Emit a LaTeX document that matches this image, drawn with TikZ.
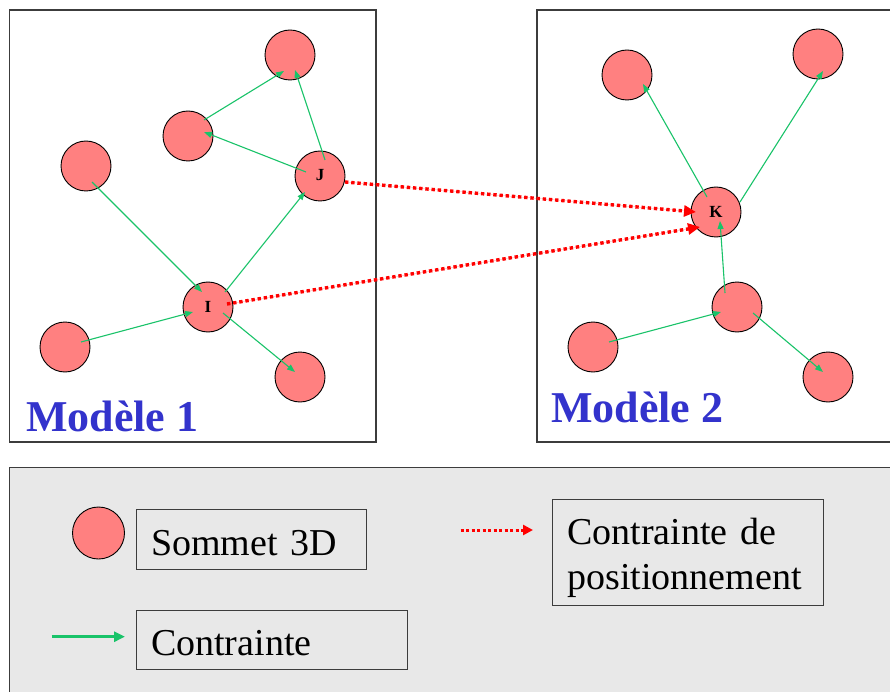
\documentclass[tikz,border=0pt]{standalone}
\usepackage{fontspec}
\setmainfont{Liberation Serif}
\usetikzlibrary{arrows.meta,calc}
\definecolor{vert}{RGB}{25,195,105}
\definecolor{rose}{RGB}{255,128,128}
\definecolor{bleu}{RGB}{51,51,204}
\definecolor{cadre}{RGB}{60,60,60}
\definecolor{fond}{RGB}{232,232,232}
\begin{document}
\begin{tikzpicture}[x=1pt,y=-1pt,
  sommet/.style={circle,draw=black,line width=0.9pt,fill=rose,minimum size=50pt,inner sep=0pt,font=\fontsize{17}{17}\selectfont\bfseries},
  garrow/.style={draw=vert,line width=1.1pt,-{Triangle[length=8pt,width=6pt]}},
  rarrow/.style={draw=red,fill=red,line width=3.4pt,dash pattern=on 3.4pt off 2.8pt,-{Triangle[length=12pt,width=11pt]}},
  lgarrow/.style={draw=vert,line width=2.8pt,-{Triangle[length=11pt,width=10pt]}},
  lrarrow/.style={draw=red,line width=3pt,dash pattern=on 3pt off 2.5pt,-{Triangle[length=10pt,width=10pt]}},
  modele/.style={draw=cadre,line width=1.2pt,fill=white},
  titre/.style={text=bleu,font=\fontsize{44}{44}\selectfont\bfseries,inner sep=0pt,anchor=base west},
  lbox/.style={draw=cadre,line width=1.1pt,anchor=north west,inner xsep=15pt,inner ysep=0pt,align=left,font=\fontsize{38}{45}\selectfont}
]
\useasboundingbox (0,0) rectangle (890,692);
\clip (0,0) rectangle (890,692);
\fill[white] (0,0) rectangle (890,692);

% frames
\draw[modele] (9.5,10) rectangle (376,442);
\draw[modele] (537,10) rectangle (900,442);
\draw[draw=cadre,line width=1.2pt,fill=fond] (9.5,467.5) rectangle (900,700);

% model 1
\node[sommet] (T)  at (290,55)  {};
\node[sommet] (M)  at (188,136) {};
\node[sommet] (L)  at (86,166)  {};
\node[sommet] (J)  at (320,176) {\raisebox{2pt}{J}};
\node[sommet] (I)  at (208,307) {I};
\node[sommet] (BL) at (65,347)  {};
\node[sommet] (BR) at (300,377) {};

% model 2
\node[sommet] (TL)  at (627,75)  {};
\node[sommet] (TR)  at (818,54)  {};
\node[sommet] (K)   at (716,212) {K};
\node[sommet] (BC)  at (737,307) {};
\node[sommet] (BLr) at (593,347) {};
\node[sommet] (BRr) at (828,377) {};

% green constraints, model 1
\draw[garrow] ($(J)+(5,-16)$) -- ($(T)+(5,15)$);
\draw[garrow] ($(J)+(-14,-4)$) -- ($(M)+(16,-4)$);
\draw[garrow] ($(M)+(16,-16)$) -- ($(T)+(-6,16)$);
\draw[garrow] ($(L)+(6,16)$) -- ($(I)+(-6,-15)$);
\draw[garrow] ($(I)+(17,-15)$) -- ($(J)+(-15,16)$);
\draw[garrow] ($(BL)+(16,-5)$) -- ($(I)+(-15,5)$);
\draw[garrow] ($(I)+(15,6)$) -- ($(BR)+(-5,-5)$);

% green constraints, model 2
\draw[garrow] ($(K)+(-9,-15)$) -- ($(TL)+(16,9)$);
\draw[garrow] ($(K)+(24,-10)$) -- ($(TR)+(5,17)$);
\draw[garrow] ($(BC)+(-12,-14)$) -- ($(K)+(4,9)$);
\draw[garrow] ($(BLr)+(16,-5)$) -- ($(BC)+(-16,5)$);
\draw[garrow] ($(BC)+(16,6)$) -- ($(BRr)+(-5,-5)$);

% positioning constraints
\draw[rarrow] ($(J)+(25,6)$) -- ($(K)+(-20,0)$);
\draw[rarrow] ($(I)+(19,-3)$) -- ($(K)+(-16,15)$);

% titles
\node[titre] (m1) at (26,431) {Modèle 1};
\node[titre] (m2) at (551,422) {Modèle 2};

% legend
\node[sommet,minimum size=52pt] (lsom) at (98.5,533) {};
\node[lbox,text width=200pt] (lsb) at (135.5,508.5) {\rule{0pt}{46pt}Sommet 3D\rule[-14pt]{0pt}{14pt}};
\node[lbox,text width=241pt] (lcb) at (135.5,610) {\rule{0pt}{44.5pt}Contrainte\rule[-14.5pt]{0pt}{14.5pt}};
\node[lbox,text width=241.6pt] (lpb) at (551.7,499.3) {\rule{0pt}{44.4pt}Contrainte de\\positionnement\rule[-16.3pt]{0pt}{16.3pt}};
\coordinate (ga1) at (51.7,636.7);
\coordinate (ga2) at (125,636.7);
\draw[lgarrow] (ga1) -- (ga2);
\coordinate (ra1) at (460.7,530);
\coordinate (ra2) at (533,530);
\draw[lrarrow] (ra1) -- (ra2);
\end{tikzpicture}
\end{document}
